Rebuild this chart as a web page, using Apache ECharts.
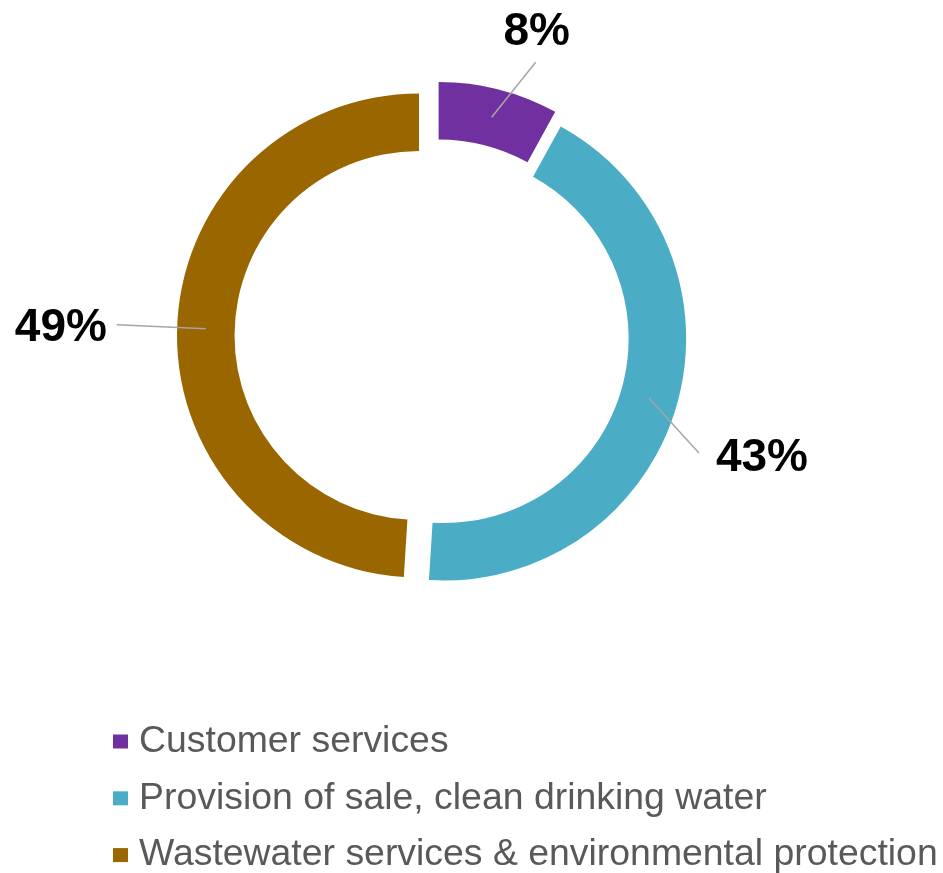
<!DOCTYPE html>
<html>
<head>
<meta charset="utf-8">
<title>Spending by service area</title>
<script src="https://cdn.jsdelivr.net/npm/echarts@6/dist/echarts.min.js"></script>
<style>
  html, body { margin: 0; padding: 0; background: #ffffff; }
  #chart { width: 943px; height: 873px; }
</style>
</head>
<body>
<div id="chart"></div>
<script>
// Service areas and their share of the total (%)
const categories = [
  'Customer services',
  'Provision of sale, clean drinking water',
  'Wastewater services & environmental protection'
];
const shares = [8, 43, 49];

// Styling
const colors = ['#7030A0', '#4BACC6', '#996600'];
const FONT = "'Liberation Sans', Arial, Helvetica, sans-serif";

// Ring geometry (pixels)
const CENTER = [435.5, 336];
const RADIUS = [184.5, 242];
// How far each segment is pulled out from the centre
const EXPLODE = [12.5, 9, 16.5];
// Label placement relative to the leader-line start (mid-band point):
// text centre and leader-line end
const LABEL_POS = [
  { text: [45, -85], end: [44, -55] },
  { text: [113, 60], end: [50, 55] },
  { text: [-145, 0], end: [-89, -4] }
];

const total = shares.reduce((a, b) => a + b, 0);
const halfBand = (RADIUS[1] - RADIUS[0]) / 2;

function segmentCenter(i) {
  let before = 0;
  for (let k = 0; k < i; k++) before += shares[k];
  const mid = (before + shares[i] / 2) / total * Math.PI * 2; // clockwise from 12 o'clock
  return [CENTER[0] + EXPLODE[i] * Math.sin(mid), CENTER[1] - EXPLODE[i] * Math.cos(mid)];
}

function labelLayoutFor(i) {
  return function (params) {
    const pts = params.labelLinePoints;
    if (!pts) return {};
    const p0 = pts[0], p1 = pts[1];
    const vx = p1[0] - p0[0], vy = p1[1] - p0[1];
    const len = Math.sqrt(vx * vx + vy * vy) || 1;
    const start = [p0[0] - vx / len * halfBand, p0[1] - vy / len * halfBand];
    const pos = LABEL_POS[i];
    const end = [start[0] + pos.end[0], start[1] + pos.end[1]];
    return {
      x: start[0] + pos.text[0],
      y: start[1] + pos.text[1],
      align: 'center',
      verticalAlign: 'middle',
      labelLinePoints: [start, end, end]
    };
  };
}

// Every ring carries all values so the angles stay shared; only the
// owning segment is painted.
function ringData(i, withLabel) {
  return categories.map(function (name, k) {
    const own = k === i;
    return {
      name: name,
      value: shares[k],
      itemStyle: { color: own && !withLabel ? colors[k] : 'rgba(0,0,0,0)' },
      label: { show: own && withLabel },
      labelLine: { show: own && withLabel }
    };
  });
}

const baseRing = {
  type: 'pie',
  radius: RADIUS,
  startAngle: 90,
  clockwise: true,
  avoidLabelOverlap: false,
  animation: false,
  silent: true,
  itemStyle: { borderWidth: 0 },
  emphasis: { disabled: true }
};

// Coloured segments, each pulled out by its own amount
const segmentSeries = categories.map(function (_, i) {
  return Object.assign({}, baseRing, {
    z: 2,
    center: segmentCenter(i),
    label: { show: false },
    labelLine: { show: false },
    data: ringData(i, false)
  });
});

// Percentage labels with leader lines, drawn above the segments
const labelSeries = categories.map(function (_, i) {
  return Object.assign({}, baseRing, {
    z: 5,
    center: segmentCenter(i),
    label: {
      show: true,
      position: 'outside',
      formatter: '{c}%',
      color: '#000000',
      fontFamily: FONT,
      fontWeight: 'bold',
      fontSize: 46
    },
    labelLine: {
      show: true,
      length: 10,
      length2: 10,
      smooth: false,
      lineStyle: { color: '#A6A6A6', width: 1.5 }
    },
    labelLayout: labelLayoutFor(i),
    data: ringData(i, true)
  });
});

const chart = echarts.init(document.getElementById('chart'), null, { renderer: 'canvas' });
chart.setOption({
  backgroundColor: '#ffffff',
  animation: false,
  legend: {
    orient: 'vertical',
    left: 113,
    top: 723,
    height: 200,
    padding: 0,
    itemWidth: 15,
    itemHeight: 14,
    itemGap: 19.8,
    icon: 'rect',
    selectedMode: false,
    textStyle: {
      fontFamily: FONT,
      fontSize: 37.4,
      lineHeight: 37,
      color: '#595959',
      padding: [0, 0, 0, 6]
    },
    data: categories.map(function (name, i) {
      return { name: name, itemStyle: { color: colors[i] } };
    })
  },
  series: segmentSeries.concat(labelSeries)
});
</script>
</body>
</html>
